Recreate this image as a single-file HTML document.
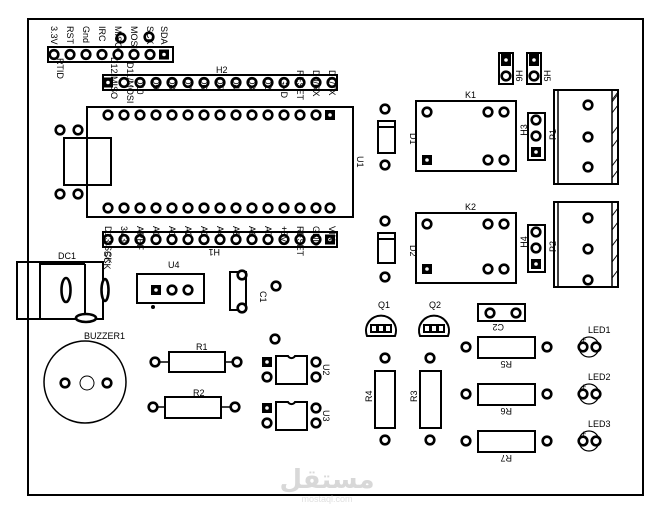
<!DOCTYPE html>
<html><head><meta charset="utf-8"><style>
html,body{margin:0;padding:0;background:#fff}
svg{display:block}
text{font-family:"Liberation Sans",sans-serif;font-size:9px;fill:#000}
.p{fill:#fff;stroke:#000;stroke-width:2.6}
.s{fill:#000}
.r{fill:none;stroke:#000;stroke-width:2}
</style></head><body>
<svg width="652" height="514" viewBox="0 0 652 514" xmlns="http://www.w3.org/2000/svg">
<defs>
<g id="pd"><circle class="p" r="4.3"/></g>
<g id="sq"><rect class="s" x="-5" y="-5" width="10" height="10"/><circle r="1.8" fill="#fff"/></g>
</defs>
<rect x="28" y="19" width="615" height="476" fill="none" stroke="#000" stroke-width="2"/>

<!-- RTID header -->
<rect class="r" x="48" y="47" width="125" height="15" stroke-width="1.5"/>
<g>
<use href="#pd" x="54" y="54.5"/><use href="#pd" x="70" y="54.5"/><use href="#pd" x="86" y="54.5"/><use href="#pd" x="102" y="54.5"/><use href="#pd" x="118" y="54.5"/><use href="#pd" x="134" y="54.5"/><use href="#pd" x="150" y="54.5"/><use href="#sq" x="164" y="54.5"/>
<use href="#pd" x="121" y="38"/><use href="#pd" x="149" y="37"/>
</g>
<g font-size="9">
<text transform="translate(51,26) rotate(90)">3.3V</text>
<text transform="translate(67,26) rotate(90)">RST</text>
<text transform="translate(83,26) rotate(90)">Gnd</text>
<text transform="translate(99,26) rotate(90)">IRC</text>
<text transform="translate(115,26) rotate(90)">MISO</text>
<text transform="translate(131,26) rotate(90)">MOSI</text>
<text transform="translate(147,26) rotate(90)">SCK</text>
<text transform="translate(161,26) rotate(90)">SDA</text>
<text transform="translate(57,58) rotate(90)">RTID</text>
</g>

<!-- H2 -->
<text x="216" y="73">H2</text>
<rect class="r" x="103" y="75" width="234" height="15" stroke-width="1.5"/>
<use href="#sq" x="108" y="82.5"/>
<use href="#pd" x="124" y="82.5"/><use href="#pd" x="140" y="82.5"/><use href="#pd" x="156" y="82.5"/><use href="#pd" x="172" y="82.5"/><use href="#pd" x="188" y="82.5"/><use href="#pd" x="204" y="82.5"/><use href="#pd" x="220" y="82.5"/><use href="#pd" x="236" y="82.5"/><use href="#pd" x="252" y="82.5"/><use href="#pd" x="268" y="82.5"/><use href="#pd" x="284" y="82.5"/><use href="#pd" x="300" y="82.5"/><use href="#pd" x="316" y="82.5"/><use href="#pd" x="332" y="82.5"/>
<g font-size="8.5">
<text transform="translate(111,57) rotate(90)">D12/MISO</text>
<text transform="translate(127,62) rotate(90)">D11/MOSI</text>
<text transform="translate(137,78) rotate(90)">D10</text>
<text transform="translate(153,78) rotate(90)">D9</text>
<text transform="translate(169,78) rotate(90)">D8</text>
<text transform="translate(185,78) rotate(90)">D7</text>
<text transform="translate(201,78) rotate(90)">D6</text>
<text transform="translate(217,78) rotate(90)">D5</text>
<text transform="translate(233,78) rotate(90)">D4</text>
<text transform="translate(249,78) rotate(90)">D3</text>
<text transform="translate(265,78) rotate(90)">D2</text>
<text transform="translate(281,78) rotate(90)">GND</text>
<text transform="translate(297,70) rotate(90)">RESET</text>
<text transform="translate(313,70) rotate(90)">D0/RX</text>
<text transform="translate(329,70) rotate(90)">D1/TX</text>
</g>

<!-- U1 -->
<rect class="r" x="87" y="107" width="266" height="110"/>
<rect class="r" x="64" y="138" width="47" height="47"/>
<use href="#pd" x="60" y="130"/><use href="#pd" x="78" y="130"/><use href="#pd" x="60" y="194"/><use href="#pd" x="78" y="194"/>
<g>
<use href="#pd" x="108" y="115"/><use href="#pd" x="124" y="115"/><use href="#pd" x="140" y="115"/><use href="#pd" x="156" y="115"/><use href="#pd" x="172" y="115"/><use href="#pd" x="188" y="115"/><use href="#pd" x="204" y="115"/><use href="#pd" x="220" y="115"/><use href="#pd" x="236" y="115"/><use href="#pd" x="252" y="115"/><use href="#pd" x="268" y="115"/><use href="#pd" x="284" y="115"/><use href="#pd" x="300" y="115"/><use href="#pd" x="316" y="115"/><use href="#sq" x="330" y="115"/>
<use href="#pd" x="108" y="208"/><use href="#pd" x="124" y="208"/><use href="#pd" x="140" y="208"/><use href="#pd" x="156" y="208"/><use href="#pd" x="172" y="208"/><use href="#pd" x="188" y="208"/><use href="#pd" x="204" y="208"/><use href="#pd" x="220" y="208"/><use href="#pd" x="236" y="208"/><use href="#pd" x="252" y="208"/><use href="#pd" x="268" y="208"/><use href="#pd" x="284" y="208"/><use href="#pd" x="300" y="208"/><use href="#pd" x="316" y="208"/><use href="#pd" x="330" y="208"/>
</g>
<text transform="translate(357,156) rotate(90)">U1</text>

<!-- H1 -->
<rect class="r" x="103" y="232" width="234" height="15" stroke-width="1.5"/>
<use href="#pd" x="108" y="239.5"/><use href="#pd" x="124" y="239.5"/><use href="#pd" x="140" y="239.5"/><use href="#pd" x="156" y="239.5"/><use href="#pd" x="172" y="239.5"/><use href="#pd" x="188" y="239.5"/><use href="#pd" x="204" y="239.5"/><use href="#pd" x="220" y="239.5"/><use href="#pd" x="236" y="239.5"/><use href="#pd" x="252" y="239.5"/><use href="#pd" x="268" y="239.5"/><use href="#pd" x="284" y="239.5"/><use href="#pd" x="300" y="239.5"/><use href="#pd" x="316" y="239.5"/><use href="#sq" x="330" y="239.5"/>
<g font-size="8.5">
<text transform="translate(105,226) rotate(90)">D13/SCK</text>
<text transform="translate(121,226) rotate(90)">3V3</text>
<text transform="translate(137,226) rotate(90)">AREF</text>
<text transform="translate(153,226) rotate(90)">A0</text>
<text transform="translate(169,226) rotate(90)">A1</text>
<text transform="translate(185,226) rotate(90)">A2</text>
<text transform="translate(201,226) rotate(90)">A3</text>
<text transform="translate(217,226) rotate(90)">A4</text>
<text transform="translate(233,226) rotate(90)">A5</text>
<text transform="translate(249,226) rotate(90)">A6</text>
<text transform="translate(265,226) rotate(90)">A7</text>
<text transform="translate(281,226) rotate(90)">+5V</text>
<text transform="translate(297,226) rotate(90)">RESET</text>
<text transform="translate(313,226) rotate(90)">GND</text>
<text transform="translate(329,226) rotate(90)">VIN</text>
</g>
<text transform="translate(220,249) rotate(180)">H1</text>

<!-- H6 H5 -->
<rect class="r" x="499" y="53" width="14" height="31" stroke-width="1.5"/>
<rect class="s" x="501" y="54" width="10" height="12"/><circle cx="506" cy="60" r="1.8" fill="#fff"/>
<use href="#pd" x="506" y="76"/>
<rect class="r" x="527" y="53" width="14" height="31" stroke-width="1.5"/>
<rect class="s" x="529" y="54" width="10" height="12"/><circle cx="534" cy="60" r="1.8" fill="#fff"/>
<use href="#pd" x="534" y="76"/>
<text transform="translate(516,70) rotate(90)">H6</text>
<text transform="translate(544,70) rotate(90)">H5</text>

<!-- D1 K1 -->
<use href="#pd" x="385" y="109"/><use href="#pd" x="385" y="165"/>
<rect class="r" x="378" y="121" width="17" height="32"/><line x1="378" y1="127" x2="395" y2="127" stroke="#000" stroke-width="2"/>
<text transform="translate(410,133) rotate(90)">D1</text>
<text x="465" y="98">K1</text>
<rect class="r" x="416" y="101" width="100" height="70"/>
<use href="#pd" x="427" y="112"/><use href="#pd" x="488" y="112"/><use href="#pd" x="504" y="112"/>
<use href="#sq" x="427" y="160"/><use href="#pd" x="488" y="160"/><use href="#pd" x="504" y="160"/>
<rect class="r" x="528" y="113" width="17" height="47" stroke-width="1.5"/>
<use href="#pd" x="536" y="120"/><use href="#pd" x="536" y="136"/><use href="#sq" x="536" y="152"/>
<text transform="translate(519,130) rotate(-90)" text-anchor="middle" dy="8">H3</text>
<text transform="translate(548,140) rotate(-90)" dy="8">P1</text>
<rect class="r" x="554" y="90" width="64" height="94"/>
<line x1="558" y1="90" x2="558" y2="184" stroke="#000" stroke-width="1.5"/>
<line x1="612" y1="90" x2="612" y2="184" stroke="#000" stroke-width="1.5"/>
<polyline points="612,100 618,92 M612,132 618,124" fill="none" stroke="#000"/>
<path d="M612,102 L618,94 M612,134 L618,126 M612,166 L618,158 M612,113 L618,105 M612,147 L618,139 M612,178 L618,170" fill="none" stroke="#000" stroke-width="1"/>
<use href="#pd" x="588" y="105"/><use href="#pd" x="588" y="137"/><use href="#pd" x="588" y="167"/>

<!-- D2 K2 -->
<use href="#pd" x="385" y="221"/><use href="#pd" x="385" y="277"/>
<rect class="r" x="378" y="233" width="17" height="30"/><line x1="378" y1="239" x2="395" y2="239" stroke="#000" stroke-width="2"/>
<text transform="translate(410,245) rotate(90)">D2</text>
<text x="465" y="210">K2</text>
<rect class="r" x="416" y="213" width="100" height="70"/>
<use href="#pd" x="427" y="224"/><use href="#pd" x="488" y="224"/><use href="#pd" x="504" y="224"/>
<use href="#sq" x="427" y="269"/><use href="#pd" x="488" y="269"/><use href="#pd" x="504" y="269"/>
<rect class="r" x="528" y="225" width="17" height="47" stroke-width="1.5"/>
<use href="#pd" x="536" y="232"/><use href="#pd" x="536" y="248"/><use href="#sq" x="536" y="264"/>
<text transform="translate(519,242) rotate(-90)" text-anchor="middle" dy="8">H4</text>
<text transform="translate(548,252) rotate(-90)" dy="8">P2</text>
<rect class="r" x="554" y="202" width="64" height="85"/>
<line x1="558" y1="202" x2="558" y2="287" stroke="#000" stroke-width="1.5"/>
<line x1="612" y1="202" x2="612" y2="287" stroke="#000" stroke-width="1.5"/>
<path d="M612,216 L618,208 M612,230 L618,222 M612,246 L618,238 M612,262 L618,254 M612,278 L618,270" fill="none" stroke="#000" stroke-width="1"/>
<use href="#pd" x="588" y="218"/><use href="#pd" x="588" y="249"/><use href="#pd" x="588" y="280"/>

<!-- DC1 -->
<text x="58" y="259">DC1</text>
<rect class="r" x="17" y="262" width="86" height="57"/>
<line x1="40" y1="262" x2="40" y2="319" stroke="#000" stroke-width="2"/>
<line x1="40" y1="264" x2="85" y2="264" stroke="#000" stroke-width="2"/>
<line x1="85" y1="264" x2="85" y2="319" stroke="#000" stroke-width="2"/>
<ellipse class="p" cx="66" cy="290" rx="4.5" ry="12"/>
<ellipse class="p" cx="105" cy="290" rx="3.5" ry="11"/>
<ellipse class="p" cx="86" cy="318" rx="10" ry="4"/>
<text transform="translate(104,251) rotate(90)" font-size="8">SCK</text>

<!-- U4 -->
<text x="168" y="268">U4</text>
<rect class="r" x="137" y="274" width="67" height="29"/>
<use href="#sq" x="156" y="290"/><use href="#pd" x="172" y="290"/><use href="#pd" x="188" y="290"/>
<circle cx="153" cy="307" r="2" fill="#000"/>

<!-- C1 -->
<rect class="r" x="230" y="272" width="16" height="38"/>
<use href="#pd" x="242" y="275"/><use href="#pd" x="242" y="308"/><use href="#pd" x="276" y="286"/>
<text transform="translate(260,291) rotate(90)">C1</text>

<!-- Buzzer -->
<text x="84" y="339">BUZZER1</text>
<circle cx="85" cy="382" r="41" fill="none" stroke="#000" stroke-width="1.5"/>
<use href="#pd" x="65" y="383"/><use href="#pd" x="107" y="383"/>
<circle cx="87" cy="383" r="7" fill="none" stroke="#000" stroke-width="1"/>

<!-- R1 R2 -->
<text x="196" y="350">R1</text>
<rect class="r" x="169" y="352" width="56" height="20"/>
<line x1="159" y1="362" x2="169" y2="362" stroke="#000" stroke-width="1.5"/><line x1="225" y1="362" x2="233" y2="362" stroke="#000" stroke-width="1.5"/>
<use href="#pd" x="155" y="362"/><use href="#pd" x="237" y="362"/>
<text x="193" y="396">R2</text>
<rect class="r" x="165" y="397" width="56" height="21"/>
<line x1="157" y1="407" x2="165" y2="407" stroke="#000" stroke-width="1.5"/><line x1="221" y1="407" x2="231" y2="407" stroke="#000" stroke-width="1.5"/>
<use href="#pd" x="153" y="407"/><use href="#pd" x="235" y="407"/>

<!-- U2 U3 -->
<use href="#pd" x="275" y="339"/>
<path class="r" d="M276,356 H288 A4,4 0 0 0 295,356 H307 V384 H276 Z"/>
<use href="#sq" x="267" y="362"/><use href="#pd" x="267" y="377"/><use href="#pd" x="316" y="362"/><use href="#pd" x="316" y="377"/>
<text transform="translate(323,364) rotate(90)">U2</text>
<path class="r" d="M276,402 H288 A4,4 0 0 0 295,402 H307 V430 H276 Z"/>
<use href="#sq" x="267" y="408"/><use href="#pd" x="267" y="423"/><use href="#pd" x="316" y="408"/><use href="#pd" x="316" y="423"/>
<text transform="translate(323,410) rotate(90)">U3</text>

<!-- Q1 Q2 -->
<text x="378" y="308">Q1</text>
<path class="r" d="M367,336 A15,15 0 1 1 395,336 Z" stroke-width="1.5"/>
<rect class="s" x="370" y="324" width="22" height="9"/><rect x="372" y="326" width="4" height="5" fill="#fff"/><rect x="379" y="326" width="4" height="5" fill="#fff"/><rect x="386" y="326" width="4" height="5" fill="#fff"/>
<text x="429" y="308">Q2</text>
<path class="r" d="M420,336 A15,15 0 1 1 448,336 Z" stroke-width="1.5"/>
<rect class="s" x="423" y="324" width="22" height="9"/><rect x="425" y="326" width="4" height="5" fill="#fff"/><rect x="432" y="326" width="4" height="5" fill="#fff"/><rect x="439" y="326" width="4" height="5" fill="#fff"/>

<!-- C2 -->
<rect class="r" x="478" y="304" width="47" height="17"/>
<use href="#pd" x="490" y="313"/><use href="#pd" x="516" y="313"/>
<text transform="translate(504,324) rotate(180)">C2</text>

<!-- R4 R3 -->
<use href="#pd" x="385" y="358"/><use href="#pd" x="385" y="440"/>
<rect class="r" x="375" y="371" width="20" height="57"/>
<text transform="translate(372,402) rotate(-90)">R4</text>
<use href="#pd" x="430" y="358"/><use href="#pd" x="430" y="440"/>
<rect class="r" x="420" y="371" width="21" height="57"/>
<text transform="translate(417,402) rotate(-90)">R3</text>

<!-- R5 R6 R7 -->
<rect class="r" x="478" y="337" width="57" height="21"/>
<use href="#pd" x="466" y="347"/><use href="#pd" x="547" y="347"/>
<text transform="translate(512,361) rotate(180)">R5</text>
<rect class="r" x="478" y="384" width="57" height="21"/>
<use href="#pd" x="466" y="394"/><use href="#pd" x="547" y="394"/>
<text transform="translate(512,408) rotate(180)">R6</text>
<rect class="r" x="478" y="431" width="57" height="21"/>
<use href="#pd" x="466" y="441"/><use href="#pd" x="547" y="441"/>
<text transform="translate(512,455) rotate(180)">R7</text>

<!-- LEDs -->
<text x="588" y="333">LED1</text>
<circle cx="589" cy="347" r="10" fill="none" stroke="#000" stroke-width="1.2"/>
<use href="#pd" x="583" y="347"/><use href="#pd" x="596" y="347"/><text x="581" y="343" font-size="8">+</text>
<text x="588" y="380">LED2</text>
<circle cx="589" cy="394" r="10" fill="none" stroke="#000" stroke-width="1.2"/>
<use href="#pd" x="583" y="394"/><use href="#pd" x="596" y="394"/><text x="581" y="390" font-size="8">+</text>
<text x="588" y="427">LED3</text>
<circle cx="589" cy="441" r="10" fill="none" stroke="#000" stroke-width="1.2"/>
<use href="#pd" x="583" y="441"/><use href="#pd" x="596" y="441"/><text x="581" y="437" font-size="8">+</text>

<!-- watermark -->
<text x="327" y="488" text-anchor="middle" style="font-family:'DejaVu Sans',sans-serif;font-size:26px;font-weight:bold;fill:#d8d8d8">مستقل</text>
<text x="327" y="502" text-anchor="middle" style="font-size:9px;fill:#e0e0e0">mostaql.com</text>
</svg>
</body></html>
